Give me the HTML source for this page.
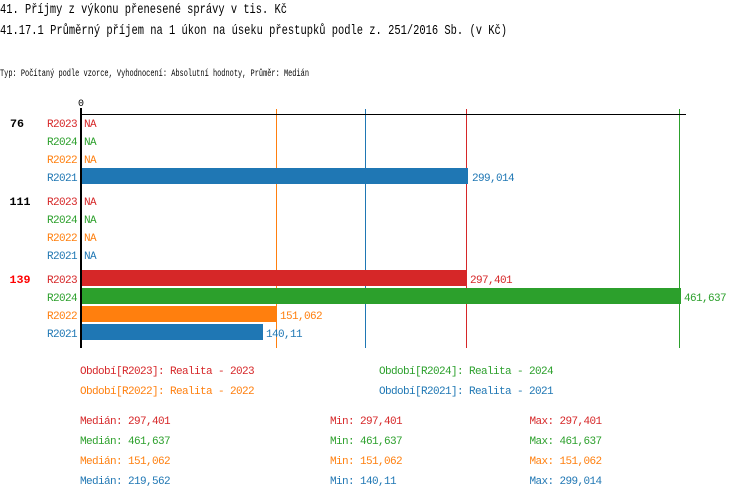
<!DOCTYPE html>
<html><head><meta charset="utf-8"><style>
html,body{margin:0;padding:0;background:#fff;width:750px;height:498px;overflow:hidden}
svg{display:block}
text{font-family:"Liberation Mono","DejaVu Sans Mono",monospace}
.s{font-size:11px;letter-spacing:-0.6px}
.r{fill:#d62728}.g{fill:#2ca02c}.o{fill:#ff7f0e}.b{fill:#1f77b4}
</style></head><body>
<svg width="750" height="498" viewBox="0 0 750 498" xmlns="http://www.w3.org/2000/svg">
<text x="0" y="13" font-size="14" textLength="287" lengthAdjust="spacingAndGlyphs">41. Příjmy z výkonu přenesené správy v tis. Kč</text>
<text x="0" y="34" font-size="14" textLength="507" lengthAdjust="spacingAndGlyphs">41.17.1 Průměrný příjem na 1 úkon na úseku přestupků podle z. 251/2016 Sb. (v Kč)</text>
<text x="0" y="76" font-size="10" textLength="309" lengthAdjust="spacingAndGlyphs">Typ: Počítaný podle vzorce, Vyhodnocení: Absolutní hodnoty, Průměr: Medián</text>
<text x="81" y="106" font-size="10" text-anchor="middle">0</text>

<!-- median lines -->
<rect x="276" y="109" width="1" height="239" fill="#ff7f0e"/>
<rect x="365" y="109" width="1" height="239" fill="#1f77b4"/>
<rect x="466" y="109" width="1" height="239" fill="#d62728"/>
<rect x="679" y="109" width="1" height="239" fill="#2ca02c"/>

<!-- axes -->
<rect x="80" y="114" width="606" height="1" fill="#000"/>
<rect x="80" y="108" width="2" height="240" fill="#000"/>

<!-- bars -->
<rect x="82" y="168" width="386" height="16" fill="#1f77b4"/>
<rect x="82" y="270" width="385" height="16" fill="#d62728"/>
<rect x="82" y="288" width="599" height="16" fill="#2ca02c"/>
<rect x="82" y="306" width="195" height="16" fill="#ff7f0e"/>
<rect x="82" y="324" width="181" height="16" fill="#1f77b4"/>

<!-- group labels -->
<text x="10" y="127" font-size="11" font-weight="bold" textLength="14" lengthAdjust="spacingAndGlyphs">76</text>
<text x="9.5" y="205" font-size="11" font-weight="bold" textLength="21" lengthAdjust="spacingAndGlyphs">111</text>
<text x="9.5" y="283" font-size="11" font-weight="bold" fill="#ff0000" textLength="21" lengthAdjust="spacingAndGlyphs">139</text>

<!-- row labels -->
<g class="s">
<text x="47" y="127" class="r">R2023</text><text x="84" y="127" class="r">NA</text>
<text x="47" y="145" class="g">R2024</text><text x="84" y="145" class="g">NA</text>
<text x="47" y="163" class="o">R2022</text><text x="84" y="163" class="o">NA</text>
<text x="47" y="181" class="b">R2021</text><text x="472" y="181" class="b">299,014</text>

<text x="47" y="205" class="r">R2023</text><text x="84" y="205" class="r">NA</text>
<text x="47" y="223" class="g">R2024</text><text x="84" y="223" class="g">NA</text>
<text x="47" y="241" class="o">R2022</text><text x="84" y="241" class="o">NA</text>
<text x="47" y="259" class="b">R2021</text><text x="84" y="259" class="b">NA</text>

<text x="47" y="283" class="r">R2023</text><text x="470" y="283" class="r">297,401</text>
<text x="47" y="301" class="g">R2024</text><text x="684" y="301" class="g">461,637</text>
<text x="47" y="319" class="o">R2022</text><text x="280" y="319" class="o">151,062</text>
<text x="47" y="337" class="b">R2021</text><text x="266" y="337" class="b">140,11</text>

<!-- legend -->
<text x="80" y="374" class="r">Období[R2023]: Realita - 2023</text>
<text x="379" y="374" class="g">Období[R2024]: Realita - 2024</text>
<text x="80" y="394" class="o">Období[R2022]: Realita - 2022</text>
<text x="379" y="394" class="b">Období[R2021]: Realita - 2021</text>

<!-- stats -->
<text x="80" y="424" class="r">Medián: 297,401</text>
<text x="330" y="424" class="r">Min: 297,401</text>
<text x="529.5" y="424" class="r">Max: 297,401</text>
<text x="80" y="444" class="g">Medián: 461,637</text>
<text x="330" y="444" class="g">Min: 461,637</text>
<text x="529.5" y="444" class="g">Max: 461,637</text>
<text x="80" y="464" class="o">Medián: 151,062</text>
<text x="330" y="464" class="o">Min: 151,062</text>
<text x="529.5" y="464" class="o">Max: 151,062</text>
<text x="80" y="484" class="b">Medián: 219,562</text>
<text x="330" y="484" class="b">Min: 140,11</text>
<text x="529.5" y="484" class="b">Max: 299,014</text>
</g>
</svg>
</body></html>
